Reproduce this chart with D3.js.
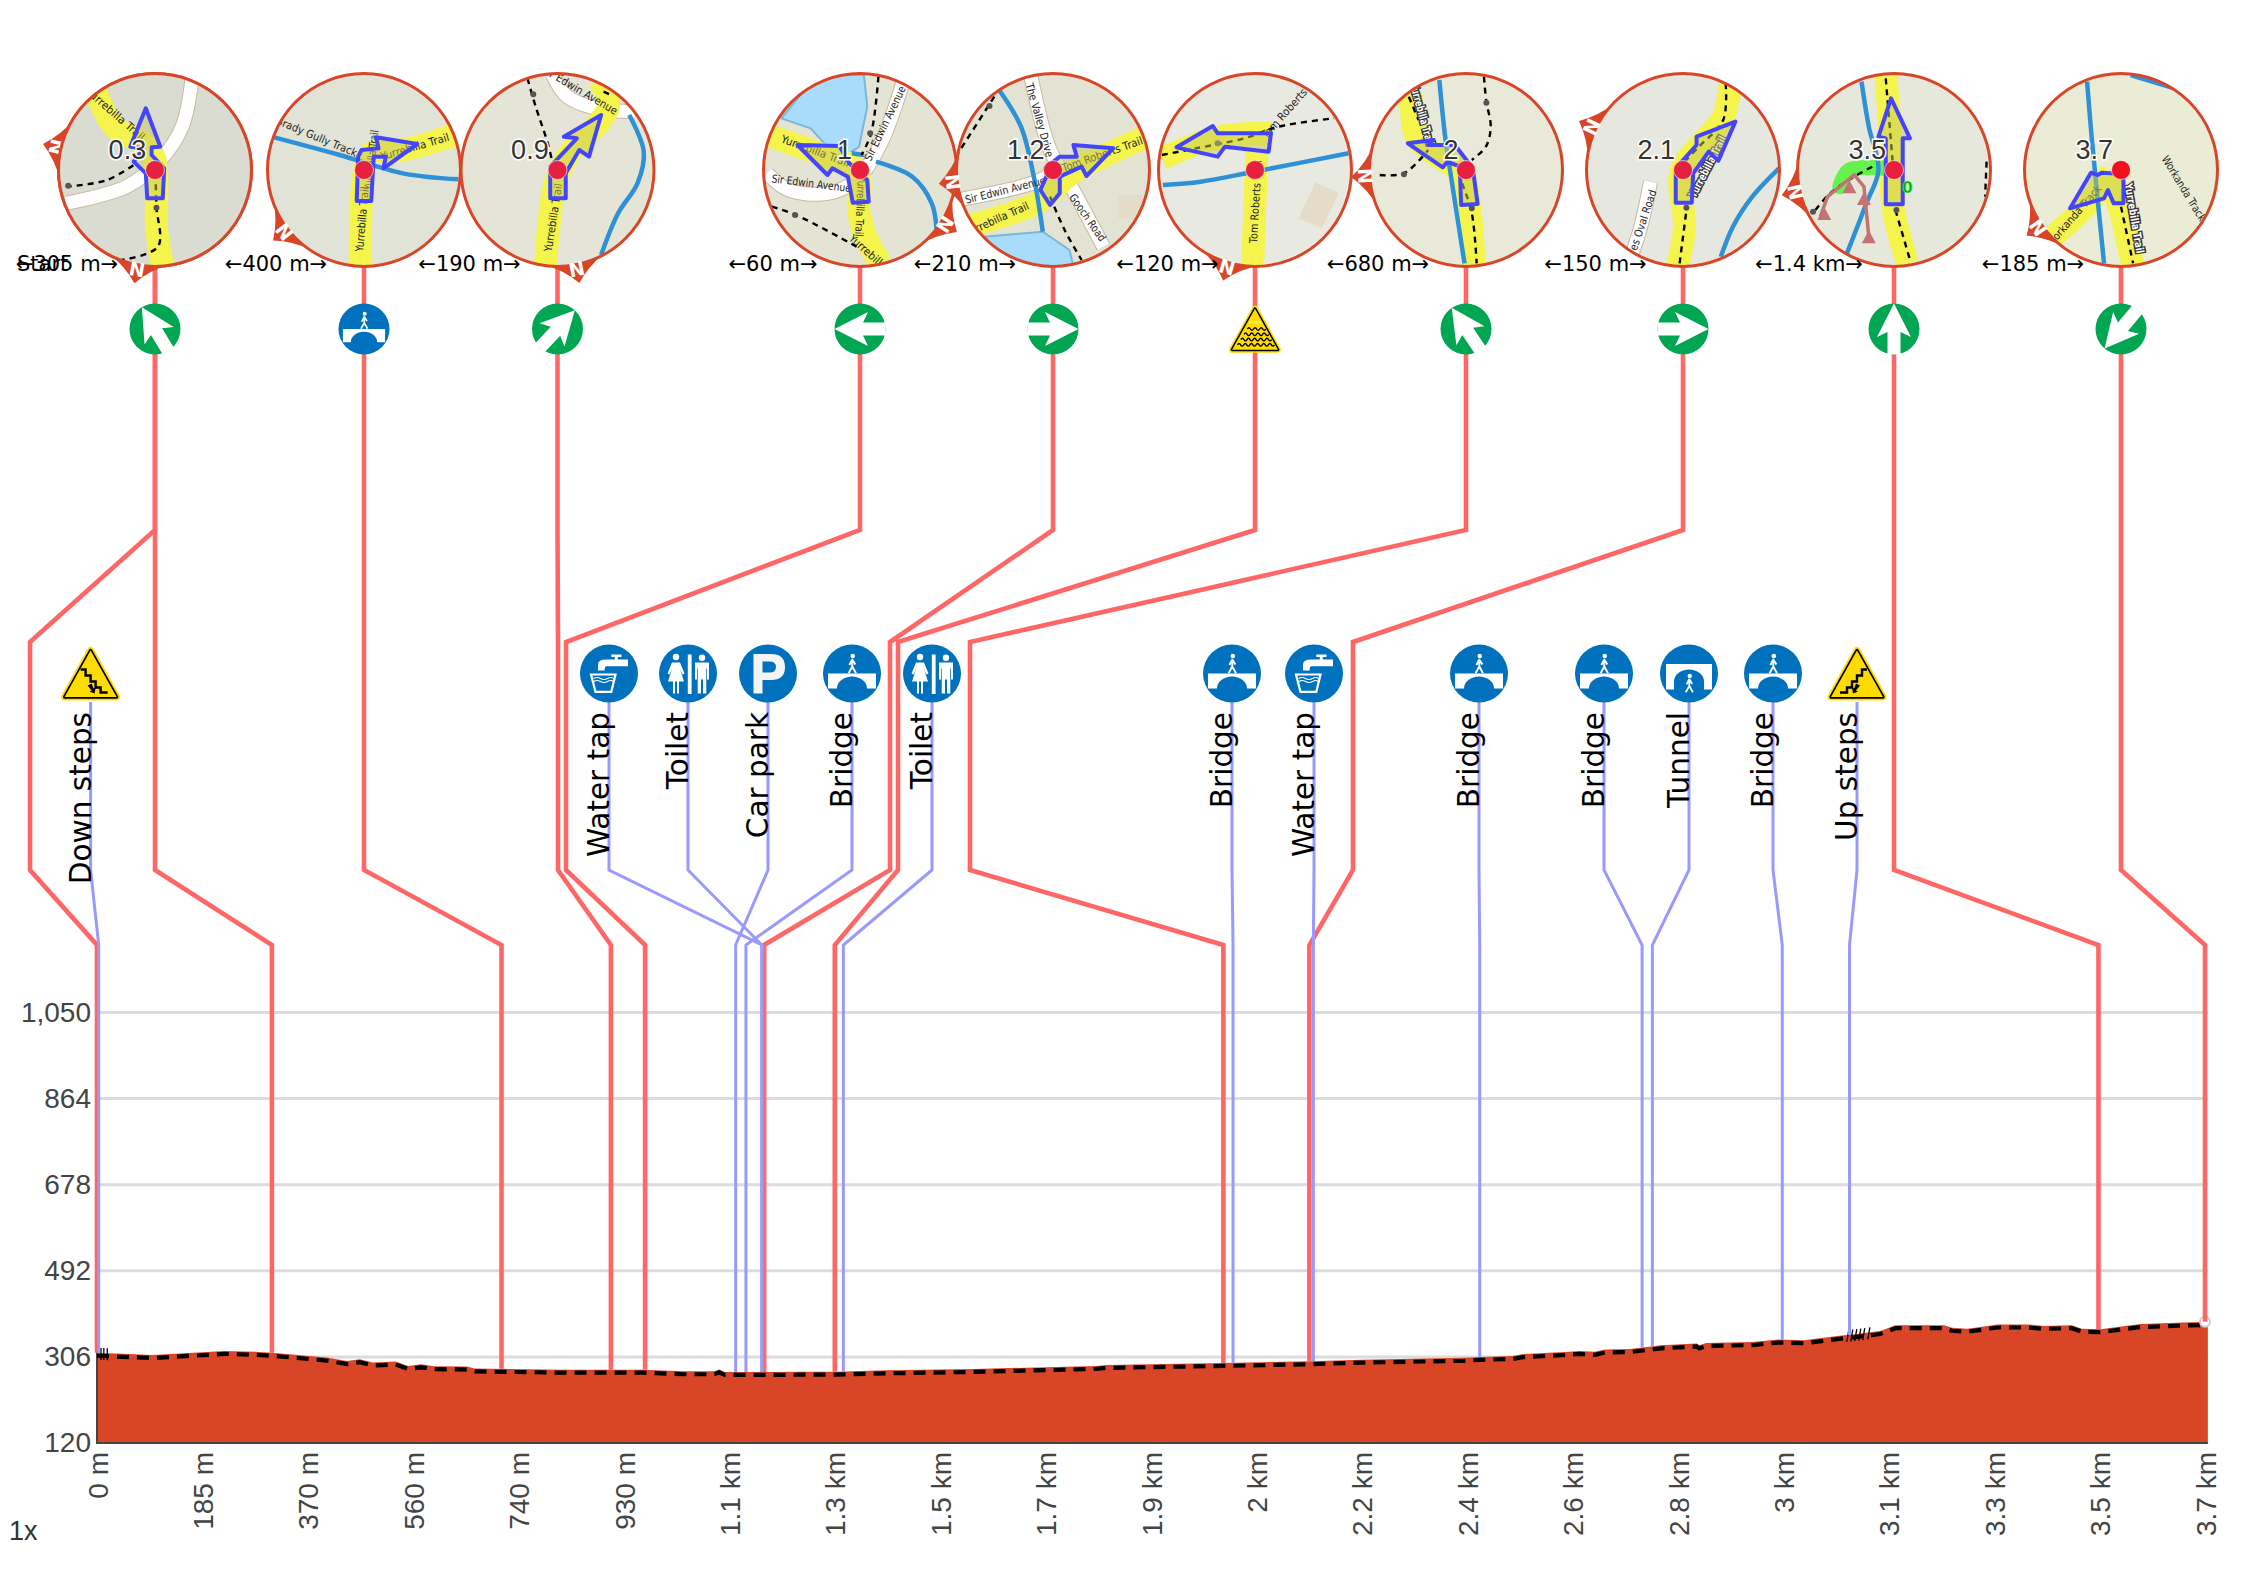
<!DOCTYPE html>
<html><head><meta charset="utf-8">
<style>html,body{margin:0;padding:0;background:#fff}svg{display:block}</style>
<script src="https://cdn.jsdelivr.net/npm/d3@7/dist/d3.min.js"></script></head>
<body><svg id="c" width="2246" height="1588" xmlns="http://www.w3.org/2000/svg"></svg>
<script>
// ---------- chart values ----------
const profileDist=[0,98,224,278,307,403,439,461,484,524,546,569,591,649,663,725,815,958,1030,1084,1092,1102,1173,1234,1295,1387,1539,1754,1772,1978,2130,2219,2399,2427,2485,2503,2584,2602,2629,2647,2691,2745,2808,2812,2825,2906,2951,2996,3058,3085,3130,3157,3242,3256,3283,3309,3336,3390,3417,3466,3484,3516,3587,3700,3705];
const profileElev=[315,310,319,317,315,304.5,297,301,294,296,286.5,290,286,285,281,280,278.5,278.5,275,275,279,273.5,273.5,274,274,277,280,286.5,288.7,293,296.7,300,304,306,308,312,317,319,317,322,323,331,335,331,336,338,343.5,342,351.5,355,362,374.5,374.5,369,367,371,376,376,373,374.5,366.6,366,377,381.7,381.7];
const yTicks=[120,306,492,678,864,1050];
const xTickValues=d3.range(0,21).map(i=>i*185);
const xTickLabels=["0 m","185 m","370 m","560 m","740 m","930 m","1.1 km","1.3 km","1.5 km","1.7 km","1.9 km","2 km","2.2 km","2.4 km","2.6 km","2.8 km","3 km","3.1 km","3.3 km","3.5 km","3.7 km"];
// turn leaders: distance on the profile, and routing columns
const turnDist=[0,307,710,902,962,1171,1295,1977,2128,3513,3700];
const turnTopX=[155,155,364,557.5,860,1053,1255,1466,1683,1894,2121];
const turnMidX=[30,155,364,558,566,890,898,970,1353,1894,2121];
const turnIcon=[null,"arrow:-31","bridge","arrow:43","arrow:-90","arrow:90","ford","arrow:-34","arrow:90","arrow:0","arrow:-140"];
// points of interest
const poiNames=["Down steps","Water tap","Toilet","Car park","Bridge","Toilet","Bridge","Water tap","Bridge","Bridge","Tunnel","Bridge","Up steps"];
const poiIcons=["down","tap","toilet","parking","bridge","toilet","bridge","tap","bridge","bridge","tunnel","bridge","up"];
const poiDist=[3,1167,1167,1121,1139,1310,1994,2135,2427,2712,2730,2958,3076];
const poiX=[90.6,609,688,768,852,932,1232,1314,1479,1604,1689,1773,1857];
const gapLabels=["←305 m→","←400 m→","←190 m→","←60 m→","←210 m→","←120 m→","←680 m→","←150 m→","←1.4 km→","←185 m→"];
const gapX=[67,276,469.5,773,965,1167.5,1378,1595.5,1809,2033];
const stepTicksDown=[7,12,18];
const stepTicksUp=[3073,3080,3087,3094,3101,3110];
// ---------- colours ----------
const RED="#d84527",LEAD="#ff6666",POI="#9999ff",BLUE="#0071bc",GREEN="#00a651",YEL="#ffdc00",WATER="#2e90d6";

const svg=d3.select("#c");
const x=d3.scaleLinear().domain([0,3700]).range([97,2205]);
const y=d3.scaleLinear().domain([120,1050]).range([1443,1012.5]);
const elevAt=d3.scaleLinear().domain(profileDist).range(profileElev);
const pts=profileDist.map((d,i)=>[d,profileElev[i]]);

// grid + axes
svg.append("g").selectAll("line").data(yTicks.slice(1)).join("line")
 .attr("x1",97).attr("x2",x(3705)).attr("y1",d=>y(d)).attr("y2",d=>y(d)).attr("stroke","#dcdcdc").attr("stroke-width",3);
const fmt=d3.format(",");
const ya=svg.append("g").attr("transform","translate(97,0)").call(d3.axisLeft(y).tickValues(yTicks).tickSize(0).tickPadding(6).tickFormat(fmt));
ya.select(".domain").remove();
ya.selectAll("text").attr("font-family","'Liberation Sans'").attr("font-size",28).attr("fill","#444");
const xa=svg.append("g").attr("transform","translate(0,1443)").call(d3.axisBottom(x).tickValues(xTickValues).tickSize(0).tickFormat((d,i)=>xTickLabels[i]));
xa.select(".domain").remove();
xa.selectAll("text").attr("font-family","'Liberation Sans'").attr("font-size",28).attr("fill","#444")
 .attr("text-anchor","end").attr("transform","translate(0,9) rotate(-90)").attr("x",0).attr("y",0).attr("dy","0.36em");

// profile
svg.append("path").datum(pts).attr("fill",RED)
 .attr("d",d3.area().x(d=>x(d[0])).y0(y(120)).y1(d=>y(d[1])));
svg.append("path").attr("stroke","#444").attr("stroke-width",2).attr("fill","none")
 .attr("d",`M${x(0)},${y(1050)}V${y(120)}H${x(3705)}`);
svg.append("path").datum(pts.slice(0,-1)).attr("fill","none").attr("stroke","#000").attr("stroke-width",4.2).attr("stroke-dasharray","12 8")
 .attr("transform","translate(0,3)").attr("d",d3.line().x(d=>x(d[0])).y(d=>y(d[1])));
svg.append("g").selectAll("line").data(stepTicksDown.concat(stepTicksUp)).join("line")
 .attr("x1",d=>x(d)+(d>100?1:0)).attr("x2",d=>x(d)-(d>100?1:0))
 .attr("y1",d=>y(elevAt(d))-5).attr("y2",d=>y(elevAt(d))+7).attr("stroke","#000").attr("stroke-width",1.3);
svg.append("circle").attr("cx",x(3700)).attr("cy",y(381.7)).attr("r",5).attr("fill","#fff").attr("stroke","#ccc").attr("stroke-width",2);

// leaders
const lv=[267,530,642,870,945];
const ln=d3.line();
svg.append("g").selectAll("path").data(turnDist).join("path").attr("fill","none").attr("stroke",LEAD).attr("stroke-width",4.6)
 .attr("d",(d,i)=>ln([[turnTopX[i],lv[0]],[turnTopX[i],lv[1]],[turnMidX[i],lv[2]],[turnMidX[i],lv[3]],[x(d),lv[4]],[x(d),y(elevAt(d))]]));
svg.append("g").selectAll("path").data(poiDist).join("path").attr("fill","none").attr("stroke",POI).attr("stroke-width",3)
 .attr("d",(d,i)=>ln([[poiX[i],702],[poiX[i],lv[3]],[x(d),lv[4]],[x(d),y(elevAt(d))]]));

// POI labels
svg.append("g").selectAll("text").data(poiNames).join("text").text(d=>d)
 .attr("font-family","'DejaVu Sans'").attr("font-size",29.5).attr("fill","#000").attr("text-anchor","end")
 .attr("transform",(d,i)=>`translate(${poiX[i]},712) rotate(-90)`);

// ---------- icons ----------
function walker(g,k,c){
 const s=g.append("g").attr("transform",`scale(${k})`);
 s.append("circle").attr("cx",0.8).attr("cy",-17.4).attr("r",2.3).attr("fill",c);
 s.append("path").attr("fill","none").attr("stroke",c).attr("stroke-width",1.9).attr("stroke-linejoin","round")
  .attr("d","M0.3,-14.5V-7L-3.4,-0.3M0.3,-7L4,-0.3M0.3,-14L-2.6,-8.5M0.3,-14L3.4,-9");
}
function iconDisc(g,r,col){g.append("circle").attr("r",r).attr("fill",col);}
function arrowIcon(g,r,deg){
 iconDisc(g,r,GREEN);
 g.append("path").attr("fill","#fff").attr("transform",`rotate(${deg})`).attr("d",`M0,${-r}L17,8L6.5,3V${r}H-6.5V3L-17,8Z`);
}
function bridgeIcon(g,r){
 iconDisc(g,r,BLUE); const k=r/29;
 const s=g.append("g").attr("transform",`scale(${k})`);
 s.append("path").attr("fill","#fff").attr("d","M-24,0H24V15H15A15,12 0 0 0 -15,15H-24Z");
 walker(s,1,"#fff");
}
function tunnelIcon(g,r){
 iconDisc(g,r,BLUE);
 g.append("path").attr("fill","#fff").attr("d","M-23,-9.5H23V16H15V8A15,12 0 0 0 -15,8V16H-23Z");
 const w=g.append("g").attr("transform","translate(0,19) scale(.95)"); walker(w,1,"#fff");
}
function tapIcon(g,r){
 iconDisc(g,r,BLUE);
 g.append("path").attr("fill","#fff").attr("d","M2.3,-19H12.5V-16.5H8.8V-14H19V-7.3H-2.7Q-4.3,-7 -4.3,-5V-3H-11V-9Q-11,-14 -2.7,-14H5.8V-16.5H2.3Z");
 g.append("path").attr("fill","none").attr("stroke","#fff").attr("stroke-width",2.2).attr("d","M-18,1H6.5L2.3,18.3H-13.5Z");
 g.append("path").attr("fill","none").attr("stroke","#fff").attr("stroke-width",1.2).attr("d","M-15.5,5Q-12,3 -8.5,5T-1.5,5T4.5,5M-15,8Q-12,6 -8.5,8T-1.5,8T4,8");
}
function toiletIcon(g,r){
 iconDisc(g,r,BLUE);
 g.append("circle").attr("cx",-12).attr("cy",-16.5).attr("r",3.2).attr("fill","#fff");
 g.append("circle").attr("cx",14).attr("cy",-15.8).attr("r",3.2).attr("fill","#fff");
 g.append("path").attr("fill","#fff").attr("d","M-16,-11H-8L-3.5,0L-5.5,1L-8,-4.5L-4,8H-9V20H-11V8H-13V20H-15V8H-20L-16,-4.5L-18.5,1L-20.5,0Z");
 g.append("rect").attr("x",-0.2).attr("y",-19).attr("width",3.8).attr("height",39.5).attr("fill","#fff");
 g.append("path").attr("fill","#fff").attr("d","M7,-11H21V6H19V-5H18.3V20H15V6H13V20H9.7V-5H9V6H7Z");
}
function parkingIcon(g,r){
 iconDisc(g,r,BLUE);
 g.append("path").attr("fill","#f5f5f5").attr("fill-rule","evenodd")
  .attr("d","M-14.5,-19.5H3Q17,-19.5 17,-6.5Q17,6.5 3,6.5H-5.5V20H-14.5ZM-5.5,-12V-1H1.5Q8,-1 8,-6.5Q8,-12 1.5,-12Z");
}
function triangle(g,k){
 const s=g.append("g").attr("transform",`scale(${k})`);
 const tri="M0,-23L26,23.5H-26Z";
 s.append("path").attr("d",tri).attr("fill",YEL).attr("stroke",YEL).attr("stroke-width",7).attr("stroke-linejoin","round");
 s.append("path").attr("d",tri).attr("fill",YEL).attr("stroke","#000").attr("stroke-width",3.4).attr("stroke-linejoin","round");
 s.append("path").attr("d",tri).attr("fill",YEL);
 return s;
}
function stepsIcon(g,dir){
 const s=triangle(g,1);
 const z=s.append("g").attr("transform",dir>0?"":"scale(-1,1)");
 z.append("path").attr("fill","none").attr("stroke","#000").attr("stroke-width",2.4)
  .attr("d","M-10,-4H-5V2H0V8H5V14H10V19H17");
 z.append("path").attr("fill","#000").attr("d","M-3,12L1,10L3,15L5,14L4,20L-1,18L1,17Z");
}
function fordIcon(g){
 const s=triangle(g,.88);
 let d="";[0,6,12,18].forEach(v=>{const w=Math.min(20,(v+14)*.62);let p=`M${-w},${v}`;for(let q=-w;q<w;q+=7)p+=`q1.75,-3 3.5,0t3.5,0`;d+=p;});
 s.append("path").attr("fill","none").attr("stroke","#000").attr("stroke-width",1.6).attr("d",d);
 s.append("text").attr("y",-6).attr("font-size",5).attr("text-anchor","middle").attr("fill","#fff6b0").attr("font-family","'DejaVu Sans'").text("FORD");
}
function drawIcon(g,name,r){
 if(name.startsWith("arrow:"))arrowIcon(g,r,+name.slice(6));
 else if(name==="bridge")bridgeIcon(g,r);
 else if(name==="tunnel")tunnelIcon(g,r);
 else if(name==="tap")tapIcon(g,r);
 else if(name==="toilet")toiletIcon(g,r);
 else if(name==="parking")parkingIcon(g,r);
 else if(name==="down")stepsIcon(g,1);
 else if(name==="up")stepsIcon(g,-1);
 else if(name==="ford")fordIcon(g);
}
poiIcons.forEach((n,i)=>drawIcon(svg.append("g").attr("transform",`translate(${poiX[i]},673.5)`),n,29));
turnIcon.forEach((n,i)=>{if(n)drawIcon(svg.append("g").attr("transform",`translate(${turnTopX[i]},329)`),n,25.5);});

// ---------- inset maps (pictorial; shapes given in picture space) ----------
const MY=170,R=97,SX=2.063,SY=3;
const maps=[
{cx:155,scx:319,bg:"#d9dacf",wedge:[-99,-23]},
{cx:155,scx:319,bg:"#dadbd1",wedge:[-18,99],num:["0.3",262],
 white:[[[395,120],[375,260],[330,360],[260,440],[135,490]]],
 yellow:[[[195,150],[235,260],[310,330],[322,400],[322,560],[335,680]]],
 dash:[[[135,440],[220,420],[280,370]],[[320,400],[322,500],[325,620],[250,660]]],
 dots:[[140,437],[322,503]],
 arrow:[[300,205],[330,320],[312,322],[312,345],[338,385],[335,475],[303,475],[300,400],[275,365],[295,325],[268,320]],
 labels:[["Yurrebilla Trail",180,150,295,295]]},
{cx:364,scx:750,bg:"#e2e3d7",wedge:[-80,62],
 blue:[[[565,292],[700,345],[830,400],[945,418]]],
 yellow:[[[742,680],[750,400],[765,340],[830,330],[945,280]]],
 arrow:[[735,483],[738,350],[745,330],[780,325],[775,292],[860,312],[790,385],[795,350],[770,350],[765,483]],
 labels:[["Yurrebilla Trail",740,635,752,440],["Yurrebilla Trail",758,450,772,270],["Yurrebilla Trail",785,350,925,290],["Brady Gully Track",570,240,735,340]]},
{cx:557.5,scx:1150,bg:"#e4e5d7",wedge:[19,98],num:["0.9",1093],
 yellow:[[[1125,680],[1145,430],[1170,350],[1255,200],[1235,120]]],
 white:[[[1140,105],[1170,170],[1230,205],[1310,215]]],
 blue:[[[1298,225],[1328,335],[1315,430],[1275,520],[1240,645]]],
 dash:[[[1088,115],[1105,200],[1130,310],[1140,370]],[[1245,155],[1265,168]]],
 dots:[[1100,163]],
 arrow:[[1135,475],[1135,380],[1190,295],[1163,290],[1240,225],[1215,350],[1195,330],[1167,400],[1167,475]],
 labels:[["Yurrebilla Trail",1130,635,1152,430],["Sir Edwin Avenue",1120,85,1272,215]]},
{cx:860,scx:247,bg:"#e3e4d3",wedge:[86,55],num:["1",215],
 lake:[[[85,235],[145,265],[180,320],[225,340],[245,320],[262,200],[255,105],[160,100],[85,235]]],
 white:[[[55,400],[100,450],[180,460],[240,420],[290,310],[335,130]]],
 yellow:[[[55,285],[170,345],[240,390],[245,520],[262,600],[290,670]]],
 blue:[[[280,365],[355,410],[395,490],[405,570]],[[230,340],[255,345]]],
 dash:[[[285,110],[270,280],[250,345]],[[65,500],[115,525],[240,620]]],
 dots:[[268,280],[113,525]],
 arrow:[[118,315],[205,318],[215,345],[225,370],[262,420],[265,485],[232,488],[222,410],[190,385],[180,405]],
 labels:[["Yurrebilla Trail",85,295,225,370],["Sir Edwin Avenue",65,415,228,445],["Sir Edwin Avenue",262,360,335,140],["Yurrebilla Trail",250,410,245,590],["Yurrebill",228,590,290,670]]},
{cx:1053,scx:646,bg:"#e2e3d3",wedge:[-100,12],num:["1.2",590],
 rects:[[[780,465],[840,465],[840,535],[780,535]]],
 lake:[[[505,590],[625,575],[680,630],[690,690],[560,690]]],
 white:[[[455,478],[620,420],[660,370]],[[600,105],[640,330],[680,430],[750,620]]],
 yellow:[[[465,560],[610,490],[690,395],[840,290]]],
 blue:[[[535,150],[580,260],[605,400],[625,575]]],
 dash:[[[525,170],[450,340]],[[640,470],[670,570],[705,660]]],
 dots:[[515,198]],
 arrow:[[640,495],[620,450],[635,400],[630,385],[660,350],[695,350],[688,315],[770,325],[715,408],[705,380],[660,410],[660,460]],
 labels:[["The Valley Drive",597,130,640,350],["Gooch Road",685,465,750,600],["Sir Edwin Avenue",465,480,630,420],["Tom Roberts Trail",665,385,830,300],["Yurrebilla Trail",465,580,595,495]]},
{cx:1255,scx:1062,bg:"#e8e9e1",wedge:[-28,97],
 rects:[[[1187,427],[1235,460],[1200,565],[1152,535]]],
 yellow:[[[1057,680],[1066,330]],[[870,355],[990,290],[1095,280]]],
 blue:[[[872,435],[950,425],[1060,395],[1255,340]]],
 dash:[[[870,345],[940,325],[1040,295],[1110,260],[1225,235]]],
 dots:[[985,310]],
 arrow:[[900,322],[975,258],[985,280],[1095,280],[1090,335],[1000,320],[985,350]],
 labels:[["Tom Roberts Trail",1058,610,1068,360],["Tom Roberts",1080,290,1165,150]]},
{cx:1466,scx:1498,bg:"#e8e9d8",wedge:[-99,6],num:["2",1467],
 yellow:[[[1385,160],[1395,290],[1440,350],[1490,400],[1505,500],[1515,680]]],
 blue:[[[1443,120],[1455,290],[1465,390],[1495,670]]],
 dash:[[[1320,405],[1370,400],[1420,330]],[[1535,110],[1540,185],[1549,260],[1539,320],[1510,360]],[[1490,430],[1510,520],[1520,670]],[[1380,170],[1400,240]]],
 dots:[[1370,403],[1540,188],[1510,505]],
 arrow:[[1488,495],[1485,380],[1460,365],[1450,382],[1378,310],[1430,300],[1420,315],[1475,315],[1512,385],[1522,492]],
 halo:[["Yurrebilla Trail",1390,130,1425,315]]},
{cx:1683,scx:407,bg:"#e6e7de",wedge:[-89,-42],num:["2.1",352],
 white:[[[340,425],[320,560],[300,650]]],
 yellow:[[[395,680],[410,560],[400,420],[410,370],[490,230],[505,125]]],
 blue:[[[605,385],[550,470],[510,560],[485,650]]],
 dash:[[[400,670],[415,500]],[[495,130],[490,240],[440,320],[400,380]]],
 dots:[[414,503]],
 arrow:[[392,488],[392,385],[435,315],[435,290],[515,245],[480,362],[460,335],[428,400],[425,488]],
 labels:[["Hawes Oval Road",290,690,345,450]],
 halo:[["Yurrebilla Trail",425,470,490,290]]},
{cx:1894,scx:842,bg:"#e6e8db",wedge:[-98,22],num:["3.5",787],
 yellow:[[[825,105],[835,300],[840,500],[870,670]]],
 green:[[[730,440],[750,390],[820,385]]],
 blue:[[[775,125],[790,260],[810,390],[785,490],[745,640]]],
 dash:[[[825,115],[840,380]],[[845,510],[875,660]],[[680,510],[710,460],[760,410],[800,378]],[[1033,365],[1030,470]]],
 dots:[[847,510],[675,515]],
 brown:[[[690,530],[705,470],[760,405],[780,440],[790,590]]],
 browntri:[[698,525],[750,445],[780,480],[790,595]],
 arrow:[[825,493],[825,295],[810,290],[836,175],[875,295],[860,295],[860,493]],
 zero:[870,442]},
{cx:2121,scx:1310,bg:"#ebecd5",wedge:[-82,57],num:["3.7",1255],
 yellow:[[[1165,595],[1250,480],[1290,395]],[[1290,420],[1310,520],[1335,680]]],
 blue:[[[1240,125],[1250,300],[1275,670]],[[1330,105],[1420,145]]],
 dash:[[[1310,500],[1335,670]]],
 arrow:[[1205,505],[1248,398],[1262,405],[1270,398],[1315,402],[1315,490],[1295,490],[1283,450],[1275,475]],
 labels:[["Workanda Track",1160,615,1265,440],["Workanda Track",1400,350,1480,540]],
 halo:[["Yurrebilla Trail",1325,430,1350,640]],redder:true}
];
const defs=svg.append("defs");
defs.append("clipPath").attr("id","mapclip").append("circle").attr("r",R);
const curve=d3.line().curve(d3.curveCatmullRom.alpha(.5));
maps.forEach(m=>{
 const P=p=>[(p[0]-m.scx)/SX,(p[1]-390)/SY];
 const g=svg.append("g").attr("transform",`translate(${m.cx},${MY})`);
 // compass wedge
 const a=Math.atan2(m.wedge[1],m.wedge[0]),d=.36;
 const pol=(ang,r)=>[r*Math.cos(ang),r*Math.sin(ang)];
 const b1=pol(a-d,95),b2=pol(a+d,95),t=pol(a,115),c1=pol(a-.13,100),c2=pol(a+.13,100);
 g.append("path").attr("fill",RED).attr("d",`M${b1}Q${c1} ${t}Q${c2} ${b2}Z`);
 const body=g.append("g");
 body.append("circle").attr("r",R).attr("fill",m.bg);
 const c=body.append("g").attr("clip-path","url(#mapclip)");
 const path=(arr,attrs,fn)=>(arr||[]).forEach(r=>{const s=c.append("path").attr("d",(fn||curve)(r.map(P))).attr("fill","none");Object.entries(attrs).forEach(([k,v])=>s.attr(k,v));});
 (m.rects||[]).forEach(r=>c.append("path").attr("d",ln(r.map(P))+"Z").attr("fill","#e4dcc8"));
 (m.lake||[]).forEach(r=>c.append("path").attr("d",ln(r.map(P))+"Z").attr("fill","#a9dcfb").attr("stroke","#78b7dc").attr("stroke-width",2));
 path(m.white,{stroke:"#c9b9a0","stroke-width":15});
 path(m.white,{stroke:"#fff","stroke-width":13});
 path(m.yellow,{stroke:"#f4f44c","stroke-width":23});
 path(m.green,{stroke:"#66f24d","stroke-width":15,"stroke-linecap":"round"});
 path(m.blue,{stroke:WATER,"stroke-width":4.5});
 path(m.dash,{stroke:"#000","stroke-width":2.4,"stroke-dasharray":"6 5"});
 (m.dots||[]).forEach(p=>{const q=P(p);c.append("circle").attr("cx",q[0]).attr("cy",q[1]).attr("r",3).attr("fill","#555");});
 path(m.brown,{stroke:"#c47272","stroke-width":3.5},ln);
 (m.browntri||[]).forEach(p=>{const q=P(p);c.append("path").attr("transform",`translate(${q})`).attr("d","M0,-8L7,5H-7Z").attr("fill","#c47272");});
 const lab=(arr,halo)=>(arr||[]).forEach(l=>{
  const A=P([l[1],l[2]]),B=P([l[3],l[4]]);
  const len=Math.hypot(B[0]-A[0],B[1]-A[1]);
  let ang=Math.atan2(B[1]-A[1],B[0]-A[0])*180/Math.PI;
  const t=c.append("text").text(l[0]).attr("font-family","'DejaVu Sans'").attr("font-size",11)
   .attr("text-anchor","middle").attr("dy","0.35em").attr("textLength",len).attr("lengthAdjust","spacingAndGlyphs")
   .attr("transform",`translate(${(A[0]+B[0])/2},${(A[1]+B[1])/2}) rotate(${ang})`);
  if(halo)t.attr("fill","#fff").attr("stroke","#333").attr("stroke-width",3).attr("paint-order","stroke").attr("font-weight","bold");
  else t.attr("fill","#222");
 });
 lab(m.labels,false);lab(m.halo,true);
 if(m.arrow)c.append("path").attr("d",ln(m.arrow.map(P))+"Z").attr("fill","#c8c85a").attr("fill-opacity",.5).attr("stroke","#4444ff").attr("stroke-width",4).attr("stroke-linejoin","round");
 if(m.zero){const q=P(m.zero);c.append("text").text("0").attr("x",q[0]).attr("y",q[1]).attr("dy","0.35em").attr("text-anchor","middle").attr("font-family","'DejaVu Sans'").attr("font-weight","bold").attr("font-size",15).attr("fill","#0a0").attr("stroke","#7f7").attr("stroke-width",.6);}
 if(m!==maps[0])c.append("circle").attr("r",9.5).attr("fill",m.redder?"#f0101c":"#e6203f").attr("stroke","#fff").attr("stroke-opacity",.6).attr("stroke-width",1);
 if(m.num){g.append("text").text(m.num[0]).attr("x",(m.num[1]-m.scx)/SX).attr("y",-11)
  .attr("text-anchor","middle").attr("font-family","'Liberation Sans'").attr("font-size",27).attr("fill","#333").attr("stroke","#fff").attr("stroke-width",3).attr("paint-order","stroke");}
 body.append("circle").attr("r",R-.5).attr("fill","none").attr("stroke",RED).attr("stroke-width",3);
 // N glyph
 const np=pol(a,101);
 g.append("text").text("N").attr("font-family","'DejaVu Sans'").attr("font-weight","bold").attr("font-size",19).attr("fill","#fff")
  .attr("text-anchor","middle").attr("dy","0.36em")
  .attr("transform",`translate(${np}) rotate(${a*180/Math.PI-90})`);
});

// map-strip texts
svg.append("text").text("Start").attr("x",17).attr("y",271).attr("font-family","'DejaVu Sans'").attr("font-size",21).attr("fill","#000");
svg.append("g").selectAll("text").data(gapLabels).join("text").text(d=>d)
 .attr("x",(d,i)=>gapX[i]).attr("y",271).attr("text-anchor","middle").attr("font-family","'DejaVu Sans'").attr("font-size",21).attr("fill","#000");
svg.append("text").text("1x").attr("x",9).attr("y",1540).attr("font-family","'Liberation Sans'").attr("font-size",27).attr("fill","#333");
</script></body></html>
